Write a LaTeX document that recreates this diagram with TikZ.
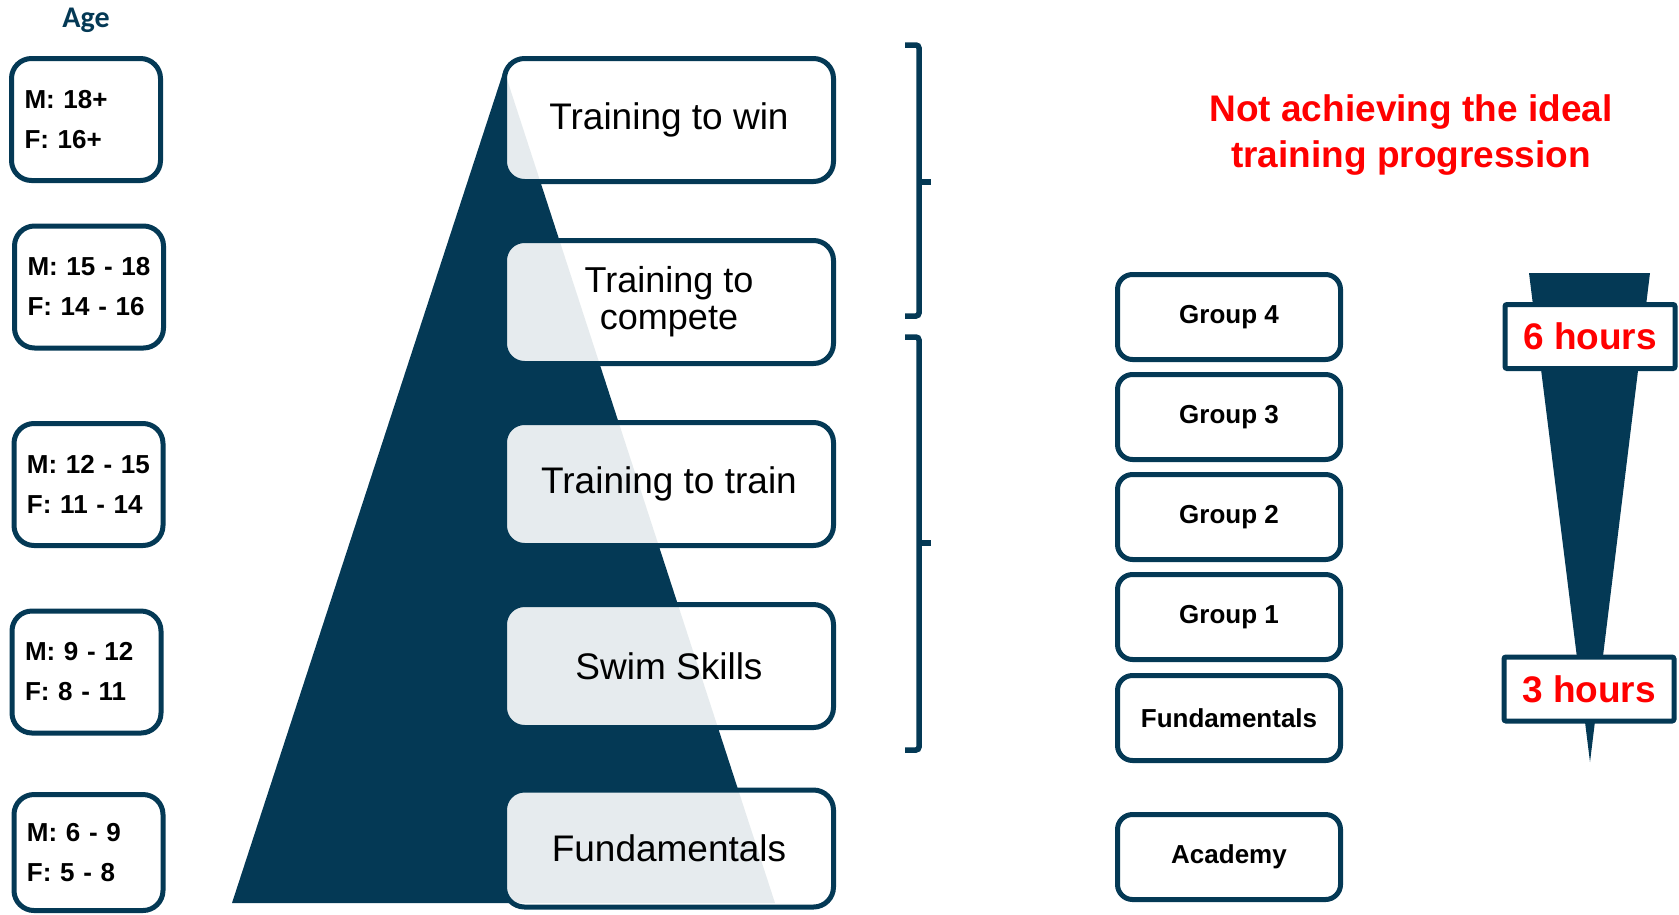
\documentclass[tikz,border=0pt]{standalone}
\usepackage{fontspec}
\setmainfont{Liberation Sans}
\newfontfamily\agefont{Carlito}
\usetikzlibrary{positioning}

\definecolor{navy}{RGB}{4,57,85}

\tikzset{
  agebox/.style={draw=navy, line width=5pt, rounded corners=20pt, fill=white,
    minimum width=149pt, minimum height=122pt, text width=123pt, inner xsep=13pt,
    align=left, font=\fontsize{26}{40}\selectfont\bfseries},
  stagebox/.style={draw=navy, line width=5pt, rounded corners=20pt, fill=white,
    fill opacity=0.9, text opacity=1, minimum width=329pt, minimum height=123pt,
    align=center, font=\fontsize{37}{36}\selectfont},
  groupbox/.style={draw=navy, line width=5pt, rounded corners=15pt, fill=white,
    minimum width=223pt, minimum height=85pt, font=\fontsize{26}{30}\selectfont\bfseries},
  hoursbox/.style={draw=navy, line width=5pt, rounded corners=2pt, fill=white,
    minimum width=170pt, minimum height=64pt, text=red, font=\fontsize{37}{40}\selectfont\bfseries},
  bracket/.style={draw=navy, line width=5.5pt, rounded corners=3pt},
}

\begin{document}
\begin{tikzpicture}[x=1pt, y=-1pt]

\useasboundingbox (0,0) rectangle (1679,914);
%\draw[step=50, gray!30] (0,0) grid (1679,914);

% pyramid behind the stages
\fill[navy] (504,70) -- (775,903) -- (232,903) -- cycle;

\node[font=\agefont\bfseries\fontsize{30}{30}\selectfont, text=navy, inner sep=0pt] (agetitle) at (86,20.5) {Age};

    	\foreach \n/\x/\y/\m/\f in {age1/86/119.5/18+/16+, age2/89/287/15 - 18/14 - 16,
    		age3/88.5/484.5/12 - 15/11 - 14, age4/86.5/672/9 - 12/8 - 11}
     		\node[agebox] (\n) at (\x,\y) {M: \m\\F: \f};
\node[agebox, minimum height=116pt] (age5) at (88.5,852.5) {M: 6 - 9\\F: 5 - 8};

\node[stagebox] (win) at (669,120) {Training to win};
\node[stagebox, font=\fontsize{36}{37}\selectfont] (compete) at (669,302) {Training to\\compete};
\node[stagebox] (train) at (669,484) {Training to train};
\node[stagebox] (skills) at (669,666) {Swim Skills};
\node[stagebox, minimum height=117pt] (fund) at (669,848.5) {Fundamentals};

% brackets
\draw[bracket] (905,45) -- (919,45) -- (919,316) -- (905,316);
\draw[bracket] (919,182) -- (931,182);
\draw[bracket] (905,337) -- (919,337) -- (919,750) -- (905,750);
\draw[bracket] (919,543) -- (931,543);

\node[text=red, align=center, font=\fontsize{37}{46}\selectfont\bfseries] (title) at (1411,135.5)
	{Not achieving the ideal\\training progression};

    	\foreach \n/\y/\t in {g4/317/Group 4, g3/417/Group 3, g2/517/Group 2,
    		g1/617/Group 1, gfund/718/Fundamentals, academy/857/Academy}
     		\node[groupbox] (\n) at (1229,\y) {\t};

% hours funnel
\fill[navy] (1529,273) -- (1650,273) -- (1590,762) -- cycle;
\node[hoursbox] (six) at (1590,336.5) {6 hours};
\node[hoursbox] (three) at (1589,689) {3 hours};

\end{tikzpicture}
\end{document}
